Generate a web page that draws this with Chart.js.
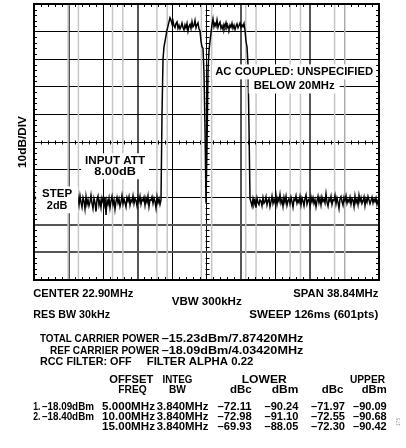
<!DOCTYPE html>
<html>
<head>
<meta charset="utf-8">
<script src="https://cdn.jsdelivr.net/npm/chart.js@4.4.1/dist/chart.umd.min.js"></script>
<style>
html,body{margin:0;padding:0;background:#fff;}
#wrap{width:406px;height:448px;}
</style>
</head>
<body>
<div id="wrap"><canvas id="c" width="406" height="448"></canvas></div>
<script>
// trace levels, dB above the bottom graticule line (10dB/div), one per sweep step
var floorLower=[30.4,30.0,29.5,29.1,28.7,29.3,27.9,28.8,29.6,28.2,
  27.5,28.9,29.8,28.1,26.9,28.4,29.2,27.6,28.8,30.1,
  28.3,27.2,29.0,28.6,26.8,28.9,29.7,27.8,28.5,29.3,
  27.4,28.7,30.0,28.2,27.1,29.1,28.4,27.7,29.4,28.6,
  27.3,28.9,29.5,28.0,
  29.8,27.2,30.5,28.1,26.4,29.9,28.6,25.8,30.2,27.4,
  29.1,26.9,28.3,30.7,27.8,25.9,29.5,28.0,24.8,29.2,
  30.4,27.1,28.8,26.3,29.7,28.4,27.0,30.1,23.6,28.9,
  27.5,29.6,26.2,28.7,30.3,27.3,29.0,25.6,28.5,30.0,
  27.9,29.4,26.7,28.2,30.6,27.6,29.3,28.0,26.5,29.8,
  28.6,30.2,27.2,29.0,28.3,30.5,27.7,29.5,28.8,26.9,
  29.9,28.4,30.3,27.5,29.2,28.7,30.0,27.1,29.6,28.2,
  30.4,26.6,29.1,28.9,30.1,27.8,29.7,28.5,26.1,30.2,
  28.0,29.4,27.4,29.0];
var riseLower=[60,80,84.5,86.5,88.5,90.5,92,93.5,95];
var carrier1=[94.2,92.8,93.9,92.1,91.4,92.9,93.5,91.2,92.3,91.0,
  91.8,93.1,91.5,90.6,92.4,91.3,92.9,90.2,91.9,92.6,
  91.1,93.6,91.7,92.2,94.0,91.4,92.5,93.2,91.0,90.2];
var notch=[86.5,84.5,84,75,55,28,48,76,83,86.5,89.5];
var carrier2=[92.5,94.6,91.8,93.0,92.0,94.2,91.5,92.7,93.4,91.2,
  92.1,90.8,92.6,91.7,93.2,91.3,92.0,90.9,92.4,91.6,
  93.0,91.2,92.3,90.7,91.9,92.8,91.4,92.2,93.1,91.5,
  92.4,91.8,92.9,90.5];
var fallUpper=[86.5,84.5,78,55,29.5];
var floorUpper=[28.2,26.8,29.4,27.5,28.9,26.2,29.7,28.1,27.3,29.0,
  28.6,26.9,29.8,27.8,28.4,30.1,27.2,28.8,29.5,26.6,
  28.3,30.4,27.7,29.2,28.0,30.6,27.4,29.6,28.5,31.0,
  27.9,29.1,26.7,29.9,28.2,30.3,27.1,28.7,29.4,27.6,
  30.0,28.4,26.4,29.3,28.8,30.5,27.8,29.0,28.1,30.2,
  27.3,29.7,28.6,26.9,29.5,30.8,27.5,28.9,29.3,27.0,
  30.1,28.3,29.8,27.7,29.1,26.5,28.7,30.4,28.0,29.6,
  27.2,30.0,28.5,29.2,27.9,31.2,28.2,26.8,29.4,28.6,
  30.3,27.4,29.0,28.8,30.6,27.6,29.7,28.1,25.9,29.3,
  30.2,28.4,27.1,29.9,28.7,30.5,27.8,29.1,28.3,30.0,
  27.5,29.5,28.9,26.6,30.4,28.0,29.2,27.3,30.7,28.5,
  29.8,27.7,28.6,30.1,27.0,29.4,28.2,30.3,29.0,27.6,
  28.8,30.0,27.9,29.3,28.4,29.7,27.4,28.9,29.5];

// frequency axis (MHz) and integration channels
var spanStart=3.48, spanStop=42.32;
var channelCenters=[5.4,10.4,15.4,20.4,25.4,30.4,35.4,40.4];
var integBw=3.84;

// ACP table
var offsetFreq=["5.000MHz","10.00MHz","15.00MHz"];
var integBwText=["3.840MHz","3.840MHz","3.840MHz"];
var lowerDbc=["\u201372.11","\u201372.98","\u201369.93"];
var lowerDbm=["\u201390.24","\u201391.10","\u201388.05"];
var upperDbc=["\u201371.97","\u201372.55","\u201372.30"];
var upperDbm=["\u201390.09","\u201390.68","\u201390.42"];
var carrierNo=["1.","2.",""];
var carrierPower=["\u201318.09dBm","\u201318.40dBm",""];

var trace=[].concat(floorLower,riseLower,carrier1,notch,carrier2,fallUpper,floorUpper);
var labels=trace.map(function(v,i){return i;});

var FONT='bold 11px "Liberation Sans", Arial, sans-serif';

// text lines under the screen: [text, left, right, y]
var captions=[
  ["CENTER 22.90MHz",33.3,133.3,294],
  ["SPAN 38.84MHz",293.3,378.3,294],
  ["VBW 300kHz",171.7,241.7,301.7],
  ["RES BW 30kHz",33.3,110,315],
  ["SWEEP 126ms (601pts)",249.3,378.3,315],
  ["TOTAL CARRIER POWER",40,159.3,339.3],
  ["\u201315.23dBm/7.87420MHz",161.7,303.3,339.3],
  ["REF CARRIER POWER",50,159.3,350.7],
  ["\u201318.09dBm/4.03420MHz",161.7,303.3,350.7],
  ["RCC FILTER: OFF",40,131.7,361.7],
  ["FILTER ALPHA 0.22",146.7,253.3,361.7],
  ["OFFSET",109.3,153.3,380],
  ["INTEG",162.5,192.5,380],
  ["LOWER",241.7,286.7,380],
  ["UPPER",350,385,380],
  ["FREQ",118.3,146.7,389.5],
  ["BW",169,186,389.5],
  ["dBc",230,251.7,389.5],
  ["dBm",271.7,298.3,389.5],
  ["dBc",321.7,343.3,389.5],
  ["dBm",361.7,386.7,389.5]
];
var tableCols=[[33.3,40.5],[42,94],[102,155],[156.7,208.3],[217.5,251.7],[264.5,298.3],[311,345],[353,386.7]];
var tableRowsY=[406.7,416.7,426.7];

// boxed notes on the graticule, placed in divisions / dB
var notes=[
  {lines:["AC COUPLED: UNSPECIFIED","BELOW 20MHz"],widths:[158,81],div:7.54,levels:[75.4,70.3],joined:false,pad:[3,5]},
  {lines:["INPUT ATT","8.00dB"],widths:[60,41.6],div:2.35,levels:[43.2,39.2],joined:true,pad:[4,4]},
  {lines:["STEP","2dB"],widths:[30,20.6],div:0.67,levels:[31.2,26.9],joined:true,pad:[6,6]}
];

function line(ctx,x1,y1,x2,y2){ctx.beginPath();ctx.moveTo(x1,y1);ctx.lineTo(x2,y2);ctx.stroke();}

// draw text stretched to span x0..x1
function fit(ctx,s,x0,x1,y){
  if(!s)return;
  var w=ctx.measureText(s).width;
  ctx.save();
  ctx.translate(x0,y);
  ctx.scale((x1-x0)/w,1);
  ctx.textAlign='left';
  ctx.fillText(s,0,0);
  ctx.restore();
}

var scopePlugin={
  id:'scope',
  beforeDatasetsDraw:function(chart){
    var ctx=chart.ctx,a=chart.chartArea,f=chart.scales.mhz;
    ctx.save();
    ctx.strokeStyle='#c6c6c6';ctx.lineWidth=1.5;
    channelCenters.forEach(function(c){
      [c-integBw/2,c+integBw/2].forEach(function(v){
        var x=f.getPixelForValue(v);
        if(x<a.left+2||x>a.right-2)return;
        line(ctx,x,a.top,x,a.bottom);
      });
    });
    ctx.restore();
  },
  afterDraw:function(chart){
    var ctx=chart.ctx,a=chart.chartArea,xd=chart.scales.div,y=chart.scales.y;
    var k,px,py;
    ctx.save();
    ctx.strokeStyle='#000';ctx.lineWidth=1;
    var cx=Math.round(xd.getPixelForValue(5))+0.5,cy=Math.round(y.getPixelForValue(50))+0.5;
    for(k=1;k<50;k++){
      if(k%5===0)continue;
      px=Math.round(xd.getPixelForValue(k/5))+0.5;
      line(ctx,px,a.top,px,a.top+3);
      line(ctx,px,a.bottom-3,px,a.bottom);
      line(ctx,px,cy-2,px,cy+2);
      py=Math.round(y.getPixelForValue(k*2))+0.5;
      line(ctx,a.left,py,a.left+3,py);
      line(ctx,a.right-3,py,a.right,py);
      line(ctx,cx-2,py,cx+2,py);
    }
    ctx.lineWidth=2;
    ctx.strokeRect(a.left,a.top,a.right-a.left,a.bottom-a.top);

    ctx.font=FONT;ctx.textBaseline='middle';
    notes.forEach(function(n){
      var x=xd.getPixelForValue(n.div);
      var ys=n.levels.map(function(l){return y.getPixelForValue(l);});
      ctx.fillStyle='#fff';
      if(n.joined){
        var w=Math.max.apply(null,n.widths)+2*n.pad[0];
        ctx.fillRect(x-w/2,ys[0]-7.5,w,ys[ys.length-1]-ys[0]+15);
      }else{
        n.widths.forEach(function(w0,i){var w=w0+2*n.pad[i];ctx.fillRect(x-w/2,ys[i]-7.5,w,15);});
      }
      ctx.fillStyle='#000';
      n.lines.forEach(function(s,i){fit(ctx,s,x-n.widths[i]/2,x+n.widths[i]/2,ys[i]);});
    });

    // y axis caption
    ctx.save();
    ctx.translate(a.left-11,(a.top+a.bottom)/2);
    ctx.rotate(-Math.PI/2);
    fit(ctx,"10dB/DIV",-26,26,0);
    ctx.restore();

    captions.forEach(function(c){fit(ctx,c[0],c[1],c[2],c[3]);});
    var cols=[carrierNo,carrierPower,offsetFreq,integBwText,lowerDbc,lowerDbm,upperDbc,upperDbm];
    tableRowsY.forEach(function(ry,r){
      cols.forEach(function(col,j){fit(ctx,col[r],tableCols[j][0],tableCols[j][1],ry);});
    });

    ctx.save();
    ctx.translate(399,422);ctx.rotate(-Math.PI/2);
    ctx.font='5px "Liberation Sans", Arial, sans-serif';ctx.fillStyle='#999';
    ctx.textAlign='center';ctx.fillText("175",0,0);
    ctx.restore();
    ctx.restore();
  }
};

function gridColor(v,grey){return grey.indexOf(v)>=0?'#555':'#000';}
function gridWidth(v,grey){return grey.indexOf(v)>=0?2:1;}

new Chart(document.getElementById('c').getContext('2d'),{
  type:'line',
  data:{labels:labels,datasets:[{data:trace,borderColor:'#000',borderWidth:1.5,pointRadius:0,tension:0,fill:false}]},
  options:{
    responsive:false,animation:false,
    layout:{padding:{left:34,top:4,right:27,bottom:168}},
    plugins:{legend:{display:false},tooltip:{enabled:false}},
    scales:{
      x:{type:'category',display:false},
      div:{type:'linear',axis:'x',position:'bottom',min:0,max:10,
        ticks:{display:false,stepSize:1},
        border:{display:false},
        grid:{drawTicks:false,
          color:function(c){return gridColor(c.tick.value,[1,3,6,8]);},
          lineWidth:function(c){return gridWidth(c.tick.value,[1,3,6,8]);}}},
      mhz:{type:'linear',axis:'x',position:'bottom',display:false,min:spanStart,max:spanStop},
      y:{type:'linear',min:0,max:100,
        ticks:{display:false,stepSize:10},
        border:{display:false},
        grid:{drawTicks:false,
          color:function(c){return gridColor(c.tick.value,[10,20]);},
          lineWidth:function(c){return gridWidth(c.tick.value,[10,20]);}}}
    }
  },
  plugins:[scopePlugin]
});
</script>
</body>
</html>
